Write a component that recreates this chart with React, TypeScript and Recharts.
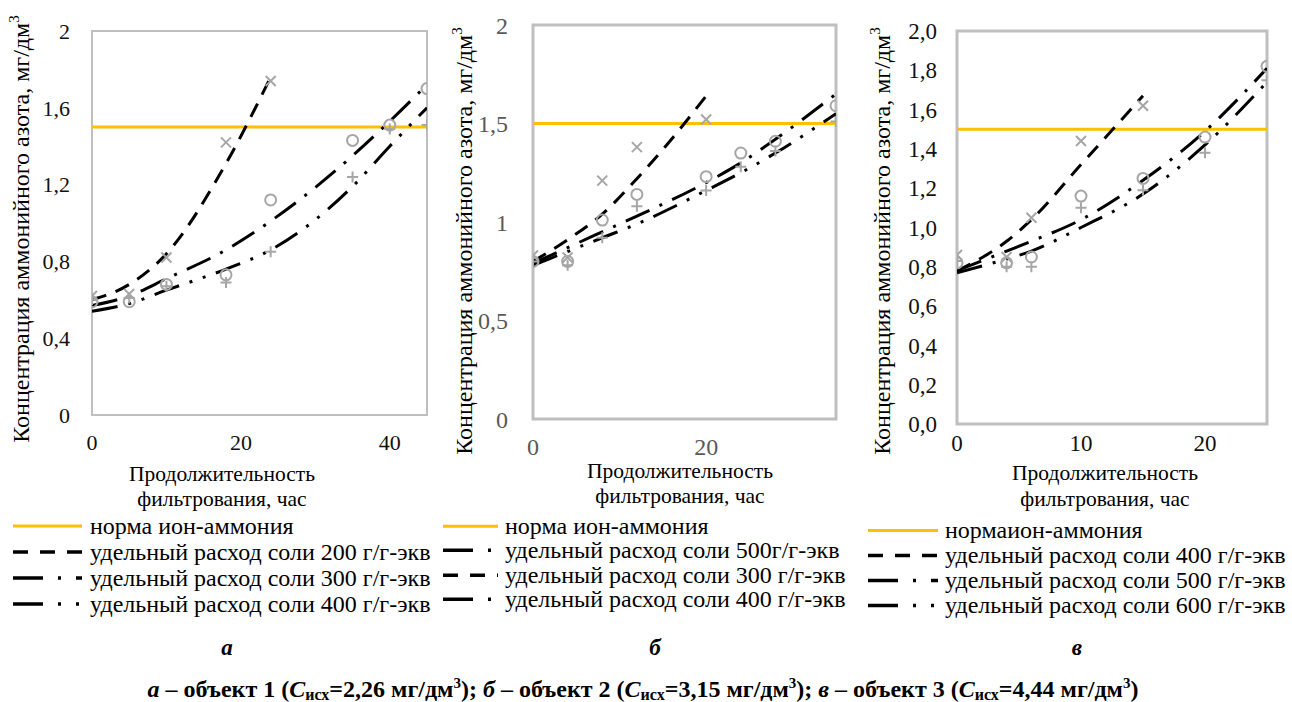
import React from 'react';
import { ComposedChart, Line, Scatter, XAxis, YAxis, ReferenceLine, ReferenceArea } from 'recharts';

const FONT = "Liberation Serif, Times New Roman, serif";
const NORM = 1.5;
const Y_MAX = 2;

// ---------- Panel а (объект 1) ----------
const aHoursAll = [0, 5, 10, 18, 24, 35, 40, 45];
const aHours200 = [0, 5, 10, 18, 24];
const aObs200 = [0.62, 0.63, 0.82, 1.42, 1.74];
const aObs300 = [0.59, 0.59, 0.68, 0.73, 1.12, 1.43, 1.51, 1.7];
const aObs400 = [0.6, 0.61, 0.67, 0.69, 0.85, 1.24, 1.49, 1.51];
const aFit200 = [0.6, 0.68, 0.84, 1.31, 1.76];
const aFit300 = [0.57, 0.62, 0.71, 0.86, 1.01, 1.35, 1.53, 1.72];
const aFit400 = [0.54, 0.58, 0.65, 0.76, 0.86, 1.19, 1.4, 1.6];
const aXTicks = [0, 20, 40];
const aYTicks = [0, 0.4, 0.8, 1.2, 1.6, 2];
const aXMax = 45;
const aLegend = [
  'норма ион-аммония',
  'удельный расход соли 200 г/г-экв',
  'удельный расход соли 300 г/г-экв',
  'удельный расход соли 400 г/г-экв',
];

// ---------- Panel б (объект 2) ----------
const bHoursAll = [0, 4, 8, 12, 20, 24, 28, 35];
const bHours300 = [0, 4, 8, 12, 20];
const bObs300 = [0.83, 0.82, 1.21, 1.38, 1.52];
const bObs400 = [0.8, 0.8, 1.01, 1.14, 1.23, 1.35, 1.41, 1.59];
const bObs500 = [0.8, 0.78, 0.92, 1.08, 1.16, 1.28, 1.36, 1.51];
const bFitHours300 = [0, 4, 8, 12, 16, 20];
const bFit300 = [0.8, 0.91, 1.04, 1.22, 1.42, 1.64];
const bFit400 = [0.79, 0.87, 0.95, 1.03, 1.2, 1.3, 1.42, 1.65];
const bFit500 = [0.78, 0.85, 0.92, 0.99, 1.16, 1.25, 1.35, 1.55];
const bXTicks = [0, 20];
const bYTicks = [0, 0.5, 1, 1.5, 2];
const bXMax = 35;
const bLegend = [
  'норма ион-аммония',
  'удельный расход соли 500г/г-экв',
  'удельный расход соли 300 г/г-экв',
  'удельный расход соли 400 г/г-экв',
];

// ---------- Panel в (объект 3) ----------
const cHoursAll = [0, 4, 6, 10, 15, 20, 25];
const cHours400 = [0, 4, 6, 10, 15];
const cObs400 = [0.86, 0.85, 1.05, 1.44, 1.62];
const cObs500 = [0.82, 0.82, 0.85, 1.16, 1.25, 1.46, 1.82];
const cObs600 = [0.83, 0.8, 0.8, 1.1, 1.19, 1.38, 1.75];
const cFit400 = [0.78, 0.93, 1.04, 1.32, 1.67];
const cFit500 = [0.78, 0.88, 0.93, 1.04, 1.24, 1.49, 1.81];
const cFit600 = [0.77, 0.84, 0.88, 1.0, 1.17, 1.42, 1.74];
const cXTicks = [0, 10, 20];
const cYTicks = [0, 0.2, 0.4, 0.6, 0.8, 1, 1.2, 1.4, 1.6, 1.8, 2];
const cXMax = 25;
const cLegend = [
  'нормаион-аммония',
  'удельный расход соли 400 г/г-экв',
  'удельный расход соли 500 г/г-экв',
  'удельный расход соли 600 г/г-экв',
];

// ---------- styles ----------
const MARK = '#A6A6A6';
const NORM_COLOR = '#FFC000';
const BORDER = '#BFBFBF';
const DASH = '15 10';
const DASH_DOT = '26 11 3 11';
const DASH_DOT_DOT = '26 11 3 11 3 11';
const LEG_DASH = '15 12';
const LEG_DASH_DOT = '30 15 3 15';
const LEG_DASH_DOT_DOT = '30 15 3 15 3 15';

type MarkerKind = 'x' | 'o' | '+';
const pts = (h: number[], v: number[]) => h.map((x, i) => ({ h: x, v: v[i] }));

const markerShape = (kind: MarkerKind) => (p: any) => {
  const { cx, cy } = p;
  if (cx == null || cy == null) return <g />;
  if (kind === 'o') return <circle cx={cx} cy={cy} r={5.5} stroke={MARK} strokeWidth={2} fill="none" />;
  if (kind === 'x')
    return (
      <path
        d={`M${cx - 5},${cy - 5}L${cx + 5},${cy + 5}M${cx - 5},${cy + 5}L${cx + 5},${cy - 5}`}
        stroke={MARK}
        strokeWidth={2}
        fill="none"
      />
    );
  return (
    <path d={`M${cx - 5.5},${cy}L${cx + 5.5},${cy}M${cx},${cy - 5.5}L${cx},${cy + 5.5}`} stroke={MARK} strokeWidth={2} fill="none" />
  );
};

type Obs = { hours: number[]; values: number[]; marker: MarkerKind };
type Fit = { hours: number[]; values: number[]; dash: string };

type PanelProps = {
  left: number;
  width: number;
  height: number;
  margin: { top: number; right: number; bottom: number; left: number };
  yAxisWidth: number;
  xAxisHeight: number;
  xMax: number;
  xTicks: number[];
  yTicks: number[];
  yFmt: (v: number) => string;
  tickFont: number;
  tickColor: string;
  yTickMargin: number;
  xTickMargin: number;
  borderWidth: number;
  obs: Obs[];
  fits: Fit[];
};

function Panel(p: PanelProps) {
  return (
    <div style={{ position: 'absolute', left: p.left, top: 0 }}>
      <ComposedChart width={p.width} height={p.height} margin={p.margin}>
        <XAxis
          dataKey="h"
          type="number"
          domain={[0, p.xMax]}
          ticks={p.xTicks}
          allowDataOverflow
          height={p.xAxisHeight}
          axisLine={false}
          tickLine={false}
          tickSize={0}
          tickMargin={p.xTickMargin}
          tick={{ fontSize: p.tickFont, fill: p.tickColor, fontFamily: FONT }}
        />
        <YAxis
          dataKey="v"
          type="number"
          domain={[0, Y_MAX]}
          ticks={p.yTicks}
          allowDataOverflow
          width={p.yAxisWidth}
          axisLine={false}
          tickLine={false}
          tickSize={0}
          tickMargin={p.yTickMargin}
          tickFormatter={p.yFmt}
          tick={{ fontSize: p.tickFont, fill: p.tickColor, fontFamily: FONT }}
        />
        <ReferenceArea
          x1={0}
          x2={p.xMax}
          y1={0}
          y2={Y_MAX}
          fill="none"
          fillOpacity={0}
          stroke={BORDER}
          strokeWidth={p.borderWidth}
          ifOverflow="visible"
        />
        <ReferenceLine y={NORM} stroke={NORM_COLOR} strokeWidth={3} ifOverflow="visible" />
        {p.obs.map((o, i) => (
          <Scatter
            key={'s' + i}
            data={pts(o.hours, o.values)}
            dataKey="v"
            shape={markerShape(o.marker)}
            isAnimationActive={false}
            legendType="none"
          />
        ))}
        {p.fits.map((f, i) => (
          <Line
            key={'l' + i}
            data={pts(f.hours, f.values)}
            dataKey="v"
            type="monotone"
            stroke="#000"
            strokeWidth={3}
            strokeDasharray={f.dash}
            dot={false}
            activeDot={false}
            isAnimationActive={false}
            legendType="none"
          />
        ))}
      </ComposedChart>
    </div>
  );
}

function YTitle({ x, y }: { x: number; y: number }) {
  return (
    <div
      style={{
        position: 'absolute',
        left: x,
        top: y,
        transform: 'translate(-50%, -50%) rotate(-90deg)',
        whiteSpace: 'nowrap',
        fontSize: 24,
        lineHeight: '26px',
        color: '#000',
      }}
    >
      Концентрация аммонийного азота, мг/дм
      <span style={{ fontSize: 15, position: 'relative', top: -10 }}>3</span>
    </div>
  );
}

function TextAt({ x, y, text, size }: { x: number; y: number; text: string; size: number }) {
  return (
    <div
      style={{
        position: 'absolute',
        left: x,
        top: y,
        transform: 'translate(-50%, -50%)',
        whiteSpace: 'nowrap',
        fontSize: size,
        lineHeight: 1,
        color: '#000',
      }}
    >
      {text}
    </div>
  );
}

function XTitle({ x, y1, y2 }: { x: number; y1: number; y2: number }) {
  return (
    <>
      <TextAt x={x} y={y1} text="Продолжительность" size={21.5} />
      <TextAt x={x} y={y2} text="фильтрования, час" size={21.5} />
    </>
  );
}

function LegendBlock({
  sampleLeft,
  sampleWidth,
  textLeft,
  top,
  rowH,
  labels,
  dashes,
}: {
  sampleLeft: number;
  sampleWidth: number;
  textLeft: number;
  top: number;
  rowH: number;
  labels: string[];
  dashes: (string | null)[];
}) {
  return (
    <div style={{ position: 'absolute', left: sampleLeft, top }}>
      {labels.map((lab, i) => (
        <div key={i} style={{ position: 'absolute', top: i * rowH, left: 0, height: rowH, width: 500 }}>
          <svg width={sampleWidth} height={rowH} style={{ position: 'absolute', left: 0, top: 0 }}>
            <line
              x1={0}
              x2={sampleWidth}
              y1={rowH / 2}
              y2={rowH / 2}
              stroke={dashes[i] === null ? NORM_COLOR : '#000'}
              strokeWidth={dashes[i] === null ? 3 : 3.5}
              strokeDasharray={dashes[i] ?? undefined}
            />
          </svg>
          <div
            style={{
              position: 'absolute',
              left: textLeft - sampleLeft,
              top: 0,
              height: rowH,
              lineHeight: rowH + 'px',
              fontSize: 24,
              whiteSpace: 'nowrap',
              color: '#000',
            }}
          >
            {lab}
          </div>
        </div>
      ))}
    </div>
  );
}

const commaFmt = (v: number) => String(v).replace('.', ',');
const fixedFmt = (v: number) => v.toFixed(1).replace('.', ',');

export default function App() {
  return (
    <div
      style={{
        position: 'absolute',
        left: 0,
        top: 0,
        width: 1292,
        height: 702,
        background: '#fff',
        fontFamily: FONT,
        overflow: 'hidden',
      }}
    >
      <Panel
        left={0}
        width={440}
        height={470}
        margin={{ top: 31, right: 13, bottom: 0, left: 0 }}
        yAxisWidth={92}
        xAxisHeight={55}
        xMax={aXMax}
        xTicks={aXTicks}
        yTicks={aYTicks}
        yFmt={commaFmt}
        tickFont={22}
        tickColor="#111"
        yTickMargin={22}
        xTickMargin={19}
        borderWidth={2}
        obs={[
          { hours: aHours200, values: aObs200, marker: 'x' },
          { hours: aHoursAll, values: aObs300, marker: 'o' },
          { hours: aHoursAll, values: aObs400, marker: '+' },
        ]}
        fits={[
          { hours: aHours200, values: aFit200, dash: DASH },
          { hours: aHoursAll, values: aFit300, dash: DASH_DOT },
          { hours: aHoursAll, values: aFit400, dash: DASH_DOT_DOT },
        ]}
      />
      <Panel
        left={440}
        width={400}
        height={475}
        margin={{ top: 25, right: 4, bottom: 0, left: 0 }}
        yAxisWidth={93}
        xAxisHeight={56}
        xMax={bXMax}
        xTicks={bXTicks}
        yTicks={bYTicks}
        yFmt={commaFmt}
        tickFont={24}
        tickColor="#595959"
        yTickMargin={25}
        xTickMargin={19}
        borderWidth={3}
        obs={[
          { hours: bHours300, values: bObs300, marker: 'x' },
          { hours: bHoursAll, values: bObs400, marker: 'o' },
          { hours: bHoursAll, values: bObs500, marker: '+' },
        ]}
        fits={[
          { hours: bFitHours300, values: bFit300, dash: DASH },
          { hours: bHoursAll, values: bFit400, dash: DASH_DOT },
          { hours: bHoursAll, values: bFit500, dash: DASH_DOT_DOT },
        ]}
      />
      <Panel
        left={860}
        width={420}
        height={480}
        margin={{ top: 31, right: 13, bottom: 0, left: 0 }}
        yAxisWidth={97}
        xAxisHeight={56}
        xMax={cXMax}
        xTicks={cXTicks}
        yTicks={cYTicks}
        yFmt={fixedFmt}
        tickFont={23}
        tickColor="#111"
        yTickMargin={20}
        xTickMargin={11}
        borderWidth={3}
        obs={[
          { hours: cHours400, values: cObs400, marker: 'x' },
          { hours: cHoursAll, values: cObs500, marker: 'o' },
          { hours: cHoursAll, values: cObs600, marker: '+' },
        ]}
        fits={[
          { hours: cHours400, values: cFit400, dash: DASH },
          { hours: cHoursAll, values: cFit500, dash: DASH_DOT },
          { hours: cHoursAll, values: cFit600, dash: DASH_DOT_DOT },
        ]}
      />

      <YTitle x={22} y={229} />
      <YTitle x={465} y={241} />
      <YTitle x={883} y={241} />

      <XTitle x={222} y1={475} y2={500} />
      <XTitle x={680} y1={472} y2={497} />
      <XTitle x={1105} y1={474} y2={500} />

      <LegendBlock
        sampleLeft={13}
        sampleWidth={69}
        textLeft={90}
        top={513}
        rowH={26}
        labels={aLegend}
        dashes={[null, LEG_DASH, LEG_DASH_DOT, LEG_DASH_DOT_DOT]}
      />
      <LegendBlock
        sampleLeft={443}
        sampleWidth={55}
        textLeft={505}
        top={514}
        rowH={24.3}
        labels={bLegend}
        dashes={[null, LEG_DASH_DOT_DOT, LEG_DASH, LEG_DASH_DOT]}
      />
      <LegendBlock
        sampleLeft={868}
        sampleWidth={70}
        textLeft={945}
        top={517.5}
        rowH={25}
        labels={cLegend}
        dashes={[null, LEG_DASH, LEG_DASH_DOT, LEG_DASH_DOT_DOT]}
      />

      {[
        { t: 'а', x: 227 },
        { t: 'б', x: 655 },
        { t: 'в', x: 1077 },
      ].map((l) => (
        <div
          key={l.t}
          style={{
            position: 'absolute',
            left: l.x,
            top: 647,
            transform: 'translate(-50%, -50%)',
            fontSize: 23,
            fontWeight: 'bold',
            fontStyle: 'italic',
            lineHeight: 1,
          }}
        >
          {l.t}
        </div>
      ))}

      <div
        style={{
          position: 'absolute',
          left: 643,
          top: 690,
          transform: 'translate(-50%, -50%)',
          whiteSpace: 'nowrap',
          fontSize: 24,
          fontWeight: 'bold',
          lineHeight: '26px',
        }}
      >
        {[
          { l: 'а', n: '1', c: '2,26' },
          { l: 'б', n: '2', c: '3,15' },
          { l: 'в', n: '3', c: '4,44' },
        ].map((s, i) => (
          <span key={s.l}>
            <i>{s.l}</i> – объект {s.n} (<i>С</i>
            <span style={{ fontSize: 16, position: 'relative', top: 3 }}>исх</span>={s.c} мг/дм
            <span style={{ fontSize: 15, position: 'relative', top: -9 }}>3</span>){i < 2 ? '; ' : ''}
          </span>
        ))}
      </div>
    </div>
  );
}
